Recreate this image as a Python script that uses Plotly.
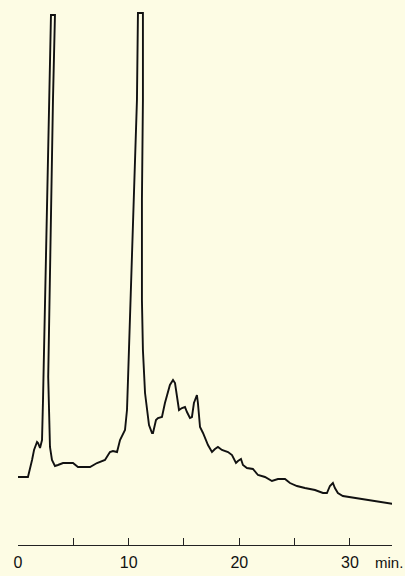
import plotly.graph_objects as go

# retention time (min) and detector signal (arbitrary units, baseline ~0)
time_min = [0.00, 0.90, 1.27, 1.45, 1.72, 1.81, 1.99, 2.17, 2.26, 2.80, 2.98, 3.34,
            3.16, 2.73, 2.80, 2.89, 3.07, 3.34, 3.61, 4.07, 4.97, 5.42, 5.78, 6.51, 7.14,
            7.86, 8.31, 8.58, 8.95, 9.22, 9.67, 9.85, 9.94, 10.75, 10.84, 11.29, 11.29,
            11.20, 11.20, 11.29, 11.48, 11.66, 11.84, 12.11, 12.20, 12.47, 12.65, 13.01,
            13.28, 13.73, 14.01, 14.19, 14.55, 14.82, 15.09, 15.27, 15.54, 15.72, 15.90,
            16.17, 16.26, 16.45, 16.72, 17.17, 17.53, 17.80, 18.07, 18.43, 18.98, 19.34,
            19.70, 19.88, 20.15, 20.33, 20.69, 21.23, 21.69, 22.32, 22.95, 23.49, 24.13,
            24.58, 25.21, 25.93, 26.84, 27.56, 27.92, 28.19, 28.46, 28.64, 28.91, 29.36,
            30.63, 32.08, 33.97]
signal = [0, 0, 17, 27, 35, 34, 29, 37, 77, 377, 462, 462,
          377, 100, 58, 30, 17, 11, 12, 14, 14, 10, 10, 10, 14,
          17, 25, 26, 25, 37, 47, 67, 97, 377, 464, 464, 377,
          277, 177, 127, 84, 67, 52, 44, 44, 57, 59, 60,
          74, 92, 97, 94, 67, 69, 70, 65, 59, 60, 74,
          82, 74, 50, 44, 32, 25, 28, 30, 27, 25, 22,
          14, 16, 18, 12, 9, 8, 2, 0, -4, -2, -2,
          -6, -9, -11, -13, -16, -16, -9, -6, -11, -16, -19,
          -21, -24, -27]

tick_vals = [0, 5, 10, 15, 20, 25, 30]
tick_text = ["0", "", "10", "", "20", "", "30"]

bg = "#fdfce4"

fig = go.Figure()
fig.add_trace(go.Scatter(x=time_min, y=signal, mode="lines",
                         line=dict(color="#111111", width=1.9),
                         hoverinfo="skip", showlegend=False))

fig.update_layout(
    width=405, height=576,
    margin=dict(l=18, r=13, t=0, b=31),
    paper_bgcolor=bg, plot_bgcolor=bg,
    font=dict(family="Liberation Sans, Arial, sans-serif", size=16, color="#111111"),
    xaxis=dict(range=[0, 33.8], tickvals=tick_vals, ticktext=tick_text,
               ticks="inside", ticklen=7, tickwidth=1, tickcolor="#222222",
               showline=True, linecolor="#222222", linewidth=1.3,
               showgrid=False, zeroline=False, ticklabelstandoff=3),
    yaxis=dict(range=[-68, 477], visible=False, showgrid=False, zeroline=False),
    annotations=[dict(text="min.", x=(373 - 18) / (405 - 18 - 13), y=-(562 - 545) / 545,
                      xref="paper", yref="paper",
                      showarrow=False, xanchor="left", yanchor="middle",
                      font=dict(size=15, color="#111111"))],
)
fig.write_html("out.html")
